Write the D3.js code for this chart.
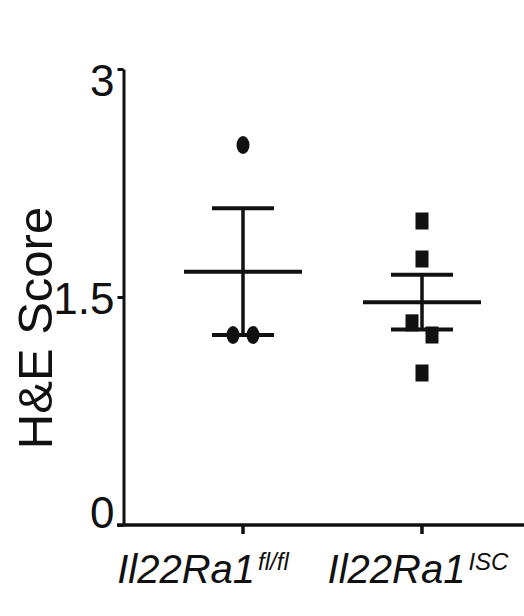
<!DOCTYPE html>
<html>
<head>
<meta charset="utf-8">
<title>H&amp;E Score</title>
<script src="https://cdn.jsdelivr.net/npm/d3@7"></script>
<style>
  body { margin: 0; background: #fff; }
  svg text { font-family: Arial, "Liberation Sans", sans-serif; fill: #111; }
</style>
</head>
<body>
<div id="chart"></div>

<script>

// data
var groups      = ["fl/fl", "ISC"];
var groupLabels = ["Il22Ra1", "Il22Ra1"];
var groupSups   = ["fl/fl", "ISC"];
var markers     = ["circle", "square"];
var scoresFlFl  = [2.5, 1.25, 1.25];
var scoresISC   = [2.0, 1.75, 1.33, 1.25, 1.0];
var yTicks      = [0, 1.5, 3];

// layout only
var labelShift = [-40, -4];

var W = 524, H = 616;
var ink = "#111";

var svg = d3.select("#chart").append("svg")
            .attr("width", W)
            .attr("height", H);

var y = d3.scaleLinear().domain([0, 3]).range([525, 69]);
var x = d3.scalePoint().domain(groups).range([243, 422]);

var allScores = [scoresFlFl, scoresISC];

// ---- y axis
var yAxis = svg.append("g")
   .attr("transform", "translate(123.5,0)")
   .call(d3.axisLeft(y).tickValues(yTicks).tickSize(6).tickSizeOuter(0).tickPadding(3)
           .tickFormat(d3.format("")));
yAxis.select(".domain").attr("stroke", ink).attr("stroke-width", 3);
yAxis.selectAll(".tick line").attr("stroke", ink).attr("stroke-width", 3);
yAxis.selectAll(".tick text")
   .attr("font-size", 44)
   .attr("fill", ink)
   .attr("dy", (d) => { return d == 3 ? "0.6em" : (d == 0 ? "0.05em" : "0.37em") });

// ---- x axis (line runs past the plot to the edge)
svg.append("line")
   .attr("x1", 117).attr("x2", W)
   .attr("y1", y(0)).attr("y2", y(0))
   .attr("stroke", ink).attr("stroke-width", 3.5);

svg.selectAll(".xtick")
   .data(groups)
   .enter()
   .append("line")
   .attr("class", "xtick")
   .attr("x1", (g) => x(g)).attr("x2", (g) => x(g))
   .attr("y1", y(0)).attr("y2", y(0) + 9)
   .attr("stroke", ink).attr("stroke-width", 3.5);

var xl = svg.selectAll(".xlabel")
   .data(groups)
   .enter()
   .append("text")
   .attr("class", "xlabel")
   .attr("x", (g, i) => x(g) + labelShift[i])
   .attr("y", 583)
   .attr("text-anchor", "middle")
   .style("font-style", "italic");
xl.append("tspan")
   .attr("font-size", 40)
   .text((g, i) => groupLabels[i]);
xl.append("tspan")
   .attr("font-size", 24)
   .attr("dy", -13)
   .attr("dx", 3)
   .text((g, i) => groupSups[i]);

// ---- y axis title
svg.append("text")
   .attr("transform", "translate(52,328) rotate(-90)")
   .attr("text-anchor", "middle")
   .attr("font-size", 49)
   .text("H&E Score");

// ---- points, spreading near-equal values side by side
function spread(vals) {
  var pts = vals.map((v) => { return { v: v, dx: 0 } });
  var sorted = pts.slice().sort((a, b) => b.v - a.v);
  for (var i = 0; i < sorted.length - 1; i++) {
    if (sorted[i].dx == 0 && sorted[i + 1].dx == 0 && sorted[i].v - sorted[i + 1].v < 0.12) {
      sorted[i].dx = -10;
      sorted[i + 1].dx = 10;
      i++;
    }
  }
  return pts;
}

groups.forEach((g, gi) => {
  var vals = allScores[gi];
  var cx = x(g);
  var mean = d3.mean(vals);
  var sem = d3.deviation(vals) / Math.sqrt(vals.length);
  var grp = svg.append("g").attr("class", "group-" + gi);

  // error bar
  grp.append("line")
     .attr("x1", cx).attr("x2", cx)
     .attr("y1", y(mean - sem)).attr("y2", y(mean + sem))
     .attr("stroke", ink).attr("stroke-width", 3.5);
  [mean - sem, mean + sem].forEach((v) => {
    grp.append("line")
       .attr("x1", cx - 31).attr("x2", cx + 31)
       .attr("y1", y(v)).attr("y2", y(v))
       .attr("stroke", ink).attr("stroke-width", 4);
  });
  // mean
  grp.append("line")
     .attr("x1", cx - 59).attr("x2", cx + 59)
     .attr("y1", y(mean)).attr("y2", y(mean))
     .attr("stroke", ink).attr("stroke-width", 4);

  var pts = spread(vals);
  if (markers[gi] == "circle") {
    grp.selectAll("ellipse")
       .data(pts)
       .enter()
       .append("ellipse")
       .attr("cx", (p) => cx + p.dx)
       .attr("cy", (p) => y(p.v))
       .attr("rx", 6.5).attr("ry", 9)
       .attr("fill", ink);
  } else {
    grp.selectAll("rect")
       .data(pts)
       .enter()
       .append("rect")
       .attr("x", (p) => cx + p.dx - 6.5)
       .attr("y", (p) => y(p.v) - 8.5)
       .attr("width", 13).attr("height", 17)
       .attr("fill", ink);
  }
});

</script>
</body>
</html>
